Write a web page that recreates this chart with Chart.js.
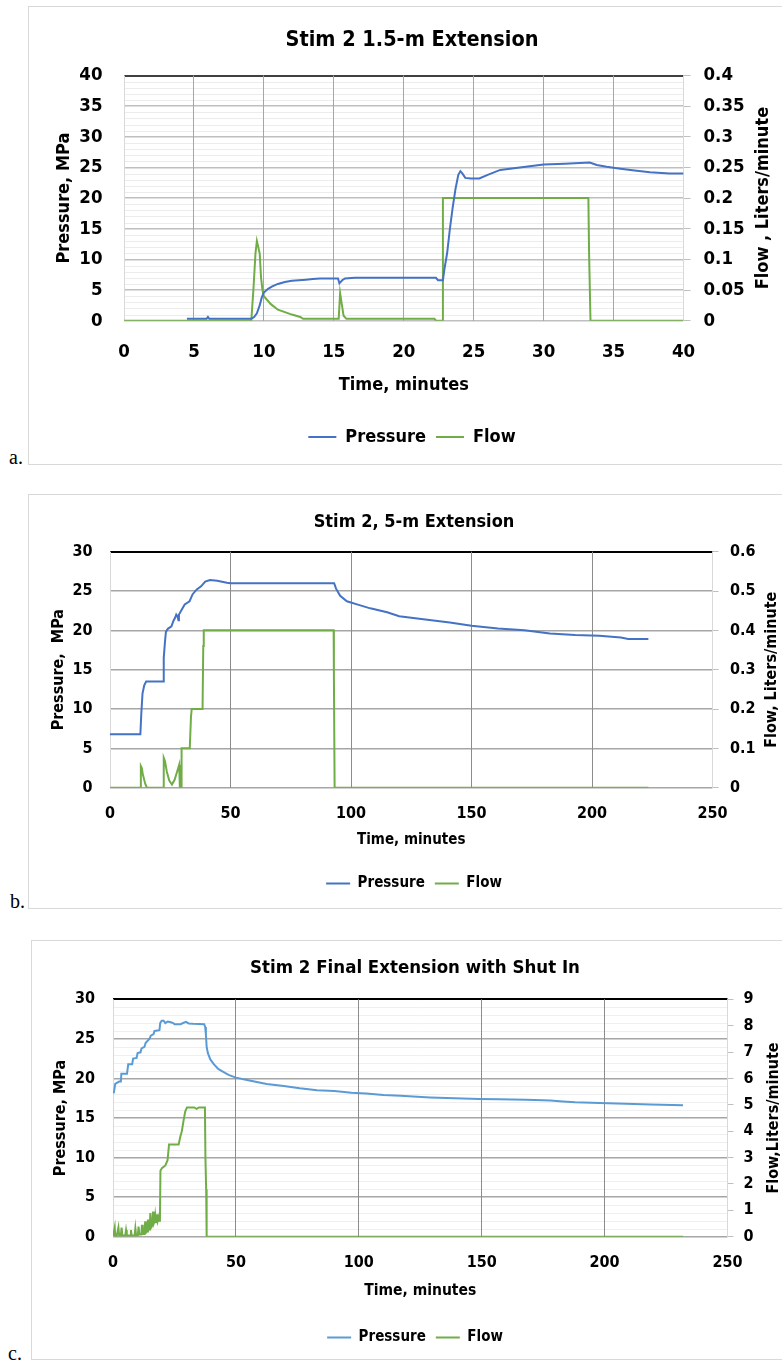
<!DOCTYPE html>
<html>
<head>
<meta charset="utf-8">
<script src="https://cdn.jsdelivr.net/npm/chart.js@4.4.1/dist/chart.umd.min.js"></script>
<style>
html, body { margin: 0; padding: 0; width: 782px; height: 1364px; overflow: hidden; background: #fff; }
.frame { position: absolute; border: 1px solid #d9d9d9; box-sizing: border-box; }
.lbl { position: absolute; font-family: "Liberation Serif", "DejaVu Serif", serif; font-size: 20px; line-height: 23px; color: #000; }
canvas { position: absolute; left: 0; }
</style>
</head>
<body>
<div class="frame" style="left:28px;top:6px;width:800px;height:459px"></div>
<div class="lbl" style="left:9px;top:446px">a.</div>
<canvas id="chartA" width="800" height="458" style="top:6px"></canvas>

<div class="frame" style="left:28px;top:494px;width:800px;height:415px"></div>
<div class="lbl" style="left:10px;top:890px">b.</div>
<canvas id="chartB" width="800" height="414" style="top:494px"></canvas>

<div class="frame" style="left:31px;top:940px;width:800px;height:420px"></div>
<div class="lbl" style="left:8px;top:1342px">c.</div>
<canvas id="chartC" width="800" height="418" style="top:940px"></canvas>

<script>
const FONT = '"DejaVu Sans Condensed", "Liberation Sans Narrow", "DejaVu Sans", sans-serif';

// ---- a. Stim 2 1.5-m Extension ----
const timePressureA = [4.5, 5.9, 6.0, 6.1, 9.1, 9.3, 9.5, 9.7, 9.85, 10.0, 10.3, 10.6, 11.0, 11.5, 12.0, 12.5, 13.0, 13.5, 14.0, 15.3, 15.4, 15.6, 15.8, 16.5, 22.3, 22.45, 22.8, 22.9, 23.1, 23.3, 23.5, 23.7, 23.9, 24.05, 24.2, 24.4, 24.8, 25.4, 26.0, 26.9, 28.3, 30.0, 31.5, 33.3, 33.8, 34.5, 35.5, 36.5, 37.6, 39.0, 40.0];
const pressureA = [0.3, 0.3, 0.6, 0.3, 0.3, 0.6, 1.2, 2.5, 3.8, 4.6, 5.2, 5.6, 6.0, 6.3, 6.5, 6.6, 6.7, 6.8, 6.9, 6.9, 6.1, 6.6, 6.9, 7.0, 7.0, 6.6, 6.6, 8.3, 11.0, 15.0, 18.5, 21.5, 23.8, 24.4, 24.0, 23.3, 23.2, 23.2, 23.8, 24.6, 25.0, 25.5, 25.6, 25.8, 25.4, 25.1, 24.8, 24.5, 24.2, 24.0, 24.0];
const timeFlowA = [0, 9.1, 9.25, 9.4, 9.5, 9.6, 9.7, 9.8, 9.9, 10.0, 10.5, 11.0, 11.5, 12.0, 12.6, 12.8, 15.35, 15.45, 15.55, 15.7, 15.9, 22.2, 22.3, 22.75, 22.8, 33.2, 33.25, 33.35, 40];
const flowA = [0, 0, 0.05, 0.11, 0.13, 0.12, 0.11, 0.07, 0.05, 0.04, 0.027, 0.018, 0.014, 0.01, 0.006, 0.003, 0.003, 0.045, 0.03, 0.008, 0.003, 0.003, 0, 0, 0.2, 0.2, 0.11, 0, 0];
const timeTicksA = ['0', '5', '10', '15', '20', '25', '30', '35', '40'];
const pressureTicksA = ['0', '5', '10', '15', '20', '25', '30', '35', '40'];
const flowTicksA = ['0', '0.05', '0.1', '0.15', '0.2', '0.25', '0.3', '0.35', '0.4'];

// ---- b. Stim 2, 5-m Extension ----
const timePressureB = [0, 12.6, 13.0, 13.5, 14.2, 15.0, 22.0, 22.3, 22.8, 23.2, 24.0, 25.5, 26.3, 27.0, 27.5, 28.0, 28.4, 28.6, 29.5, 31.0, 33.0, 34.3, 36.0, 37.8, 39.5, 41.5, 44.5, 48.5, 50, 93.0, 93.8, 95.5, 98.3, 102.5, 108, 115, 120, 130, 141, 150, 161, 172, 182.5, 193, 203, 212, 215, 223.4];
const pressureB = [6.8, 6.8, 9.5, 12.0, 13.0, 13.5, 13.5, 16.5, 18.5, 19.8, 20.2, 20.5, 21.2, 21.6, 22.0, 21.8, 21.3, 22.0, 22.5, 23.3, 23.7, 24.6, 25.2, 25.6, 26.2, 26.4, 26.3, 26.05, 26.0, 26.0, 25.3, 24.4, 23.7, 23.3, 22.8, 22.3, 21.8, 21.4, 21.0, 20.6, 20.25, 20.0, 19.6, 19.4, 19.3, 19.1, 18.9, 18.9];
const timeFlowB = [0, 12.6, 12.8, 13.2, 13.6, 14.0, 14.6, 15.3, 22.0, 22.3, 22.8, 23.6, 24.6, 25.7, 26.8, 27.8, 28.7, 29.0, 29.6, 29.7, 33.1, 33.6, 33.9, 38.4, 38.7, 38.9, 92.8, 92.9, 93.2, 223.4];
const flowB = [0, 0, 0.055, 0.05, 0.035, 0.025, 0.01, 0, 0, 0.076, 0.068, 0.04, 0.018, 0.008, 0.02, 0.04, 0.058, 0, 0, 0.1, 0.1, 0.18, 0.2, 0.2, 0.36, 0.4, 0.4, 0.29, 0, 0];
const timeTicksB = ['0', '50', '100', '150', '200', '250'];
const pressureTicksB = ['0', '5', '10', '15', '20', '25', '30'];
const flowTicksB = ['0', '0.1', '0.2', '0.3', '0.4', '0.5', '0.6'];

// ---- c. Stim 2 Final Extension with Shut In ----
const timePressureC = [0.3, 0.9, 2.5, 3.2, 3.4, 5.7, 6.2, 7.8, 8.2, 9.6, 10.0, 11.2, 11.6, 12.8, 13.3, 14.8, 15.4, 16.5, 16.9, 18.9, 19.2, 19.8, 20.6, 21.3, 22.3, 23.5, 24.5, 25.0, 27.5, 28.5, 29.7, 30.8, 32.5, 37.1, 37.5, 37.8, 38.1, 38.6, 39.6, 41.0, 42.8, 44.5, 47.0, 50.0, 54.5, 62.5, 69.5, 76, 83, 90, 97, 103, 110, 117, 129, 149, 157, 168, 178, 183, 188, 198, 208.5, 218.7, 231.9];
const pressureC = [18.1, 19.3, 19.6, 19.6, 20.6, 20.6, 21.8, 21.8, 22.5, 22.6, 23.2, 23.3, 23.8, 24.0, 24.5, 25.0, 25.4, 25.6, 26.0, 26.1, 27.0, 27.3, 27.3, 27.0, 27.2, 27.1, 27.0, 26.85, 26.85, 27.0, 27.15, 26.95, 26.9, 26.85, 26.5, 25.5, 24.0, 23.2, 22.4, 21.8, 21.2, 20.9, 20.45, 20.1, 19.8, 19.3, 19.05, 18.75, 18.5, 18.4, 18.2, 18.1, 17.9, 17.8, 17.6, 17.4, 17.36, 17.3, 17.2, 17.1, 17.0, 16.9, 16.8, 16.7, 16.6];
const timeFlowC = [0, 0.4, 0.7, 0.9, 1.5, 2.2, 2.5, 3.2, 3.5, 3.8, 5.0, 5.3, 5.6, 7.0, 7.3, 7.6, 8.8, 9.1, 9.4, 10.1, 10.4, 10.7, 11.5, 11.8, 12.1, 12.8, 13.1, 13.4, 13.9, 14.2, 14.5, 14.9, 15.2, 15.5, 16.0, 16.3, 16.6, 17.0, 17.2, 17.5, 17.9, 18.2, 18.6, 18.9, 19.1, 19.3, 19.9, 21.3, 22.2, 22.8, 26.7, 27.4, 28.0, 28.7, 29.4, 30.1, 33.0, 34.0, 35.0, 37.4, 37.6, 37.9, 38.1, 231.9];
const flowC = [0, 0, 0.35, 0.05, 0.02, 0.35, 0.05, 0.05, 0.35, 0.05, 0.05, 0.25, 0.05, 0.05, 0.25, 0.05, 0.05, 0.32, 0.05, 0.05, 0.38, 0.08, 0.08, 0.45, 0.1, 0.1, 0.58, 0.15, 0.2, 0.65, 0.25, 0.3, 0.9, 0.35, 0.45, 0.95, 0.5, 0.6, 0.8, 0.55, 0.85, 0.6, 0.75, 0.6, 0.7, 2.5, 2.6, 2.7, 2.9, 3.5, 3.5, 3.8, 4.0, 4.4, 4.75, 4.9, 4.9, 4.85, 4.9, 4.9, 3.0, 1.8, 0, 0];
const timeTicksC = ['0', '50', '100', '150', '200', '250'];
const pressureTicksC = ['0', '5', '10', '15', '20', '25', '30'];
const flowTicksC = ['0', '1', '2', '3', '4', '5', '6', '7', '8', '9'];

Chart.defaults.font.family = FONT;
Chart.defaults.font.weight = 'bold';
Chart.defaults.color = '#000';

function pts(xs, ys) {
    return xs.map((x, i) => ({ x: x, y: ys[i] }));
}

// right axis title reads bottom-to-top like the left one
const rightTitle = {
    id: 'rightTitle',
    afterDraw(chart, args, o) {
        const ctx = chart.ctx;
        const area = chart.chartArea;
        ctx.save();
        ctx.font = 'bold ' + o.size + 'px ' + FONT;
        ctx.fillStyle = '#000';
        ctx.textAlign = 'center';
        ctx.textBaseline = 'middle';
        ctx.translate(o.x, (area.top + area.bottom) / 2);
        ctx.rotate(-Math.PI / 2);
        ctx.fillText(o.text, 0, 0);
        ctx.restore();
    }
};

// faint minor lines every 1 unit of the left axis, painted before everything else
const minorGrid = {
    id: 'minorGrid',
    beforeDraw(chart, args, o) {
        if (!o.color) return;
        const ctx = chart.ctx;
        const area = chart.chartArea;
        const y = chart.scales.y;
        ctx.save();
        ctx.strokeStyle = o.color;
        ctx.lineWidth = 1;
        ctx.beginPath();
        for (let v = y.min; v <= y.max; v += 1) {
            if (v % 5 === 0) continue;
            const py = Math.round(y.getPixelForValue(v)) + 0.5;
            ctx.moveTo(area.left, py);
            ctx.lineTo(area.right, py);
        }
        ctx.stroke();
        ctx.restore();
    }
};

function makeChart(id, p) {
    return new Chart(document.getElementById(id), {
        type: 'line',
        data: {
            datasets: [
                { label: 'Pressure', data: pts(p.tp, p.pv), borderColor: p.pColor, borderWidth: p.lw, yAxisID: 'y' },
                { label: 'Flow', data: pts(p.tf, p.fv), borderColor: '#70ad47', borderWidth: p.lw, yAxisID: 'y2' }
            ]
        },
        options: {
            responsive: false,
            animation: false,
            elements: { point: { radius: 0 }, line: { tension: 0 } },
            layout: { padding: { left: p.padL, top: 0, right: 0, bottom: p.padB } },
            plugins: {
                title: {
                    display: true, text: p.title, color: '#000',
                    font: { size: p.titleSize, weight: 'bold' },
                    padding: { top: p.titlePadT, bottom: p.titlePadB }
                },
                legend: {
                    position: 'bottom',
                    labels: {
                        usePointStyle: true, pointStyle: 'line', pointStyleWidth: p.legLine,
                        color: '#000', font: { size: p.legSize, weight: 'bold' }, padding: 10
                    }
                },
                tooltip: { enabled: false },
                rightTitle: { text: p.rTitle, x: p.rTitleX, size: p.rTitleSize },
                minorGrid: { color: p.minorGrid }
            },
            scales: {
                x: {
                    type: 'linear', min: 0, max: p.xMax,
                    afterFit: s => { s.height = p.xH; },
                    ticks: {
                        stepSize: p.xStep, padding: p.xTickPad, color: '#000', autoSkip: false, maxRotation: 0,
                        font: { size: p.tickSize, weight: 'bold' },
                        callback: (v, i) => p.xTicks[i]
                    },
                    grid: {
                        drawTicks: false, lineWidth: 1,
                        color: c => (c.tick.value === 0 || c.tick.value === p.xMax) ? '#d9d9d9' : p.vGrid
                    },
                    border: { display: false },
                    title: {
                        display: true, text: 'Time, minutes', color: '#000',
                        font: { size: p.xTitleSize, weight: 'bold' },
                        padding: { top: 0, bottom: p.xTitlePadB }
                    }
                },
                y: {
                    position: 'left', min: 0, max: p.yMax,
                    afterFit: s => { s.width = p.yW; },
                    ticks: {
                        stepSize: 5, padding: p.yTickPad, color: '#000', autoSkip: false,
                        font: { size: p.tickSize, weight: 'bold' },
                        callback: (v, i) => p.yTicks[i]
                    },
                    grid: {
                        drawTicks: false,
                        z: -2,
                        color: c => c.tick.value === p.yMax ? p.topColor : p.hGrid,
                        lineWidth: c => c.tick.value === p.yMax ? 2 : 1.5
                    },
                    border: { display: false },
                    title: {
                        display: true, text: p.lTitle, color: '#000',
                        font: { size: p.yTitleSize, weight: 'bold' },
                        padding: { top: p.yTitlePad, bottom: 0 }
                    }
                },
                y2: {
                    position: 'right', min: 0, max: p.y2Max,
                    afterFit: s => { s.width = p.y2W; },
                    ticks: {
                        stepSize: p.y2Step, padding: p.y2TickPad, color: '#000', autoSkip: false,
                        font: { size: p.tickSize, weight: 'bold' },
                        callback: (v, i) => p.y2Ticks[i]
                    },
                    grid: { drawOnChartArea: false, drawTicks: true, tickLength: p.tickLen, color: '#bfbfbf' },
                    border: { display: false }
                }
            }
        },
        plugins: [minorGrid, rightTitle]
    });
}

makeChart('chartA', {
    tp: timePressureA, pv: pressureA, tf: timeFlowA, fv: flowA,
    xTicks: timeTicksA, yTicks: pressureTicksA, y2Ticks: flowTicksA,
    title: 'Stim 2 1.5-m Extension', lTitle: 'Pressure, MPa', rTitle: 'Flow , Liters/minute',
    pColor: '#4472c4', lw: 2,
    xMax: 40, xStep: 5, yMax: 40, y2Max: 0.4, y2Step: 0.05,
    padL: 24, padB: 8, titleSize: 21.5, titlePadT: 22, titlePadB: 21.7,
    legSize: 18, legLine: 28,
    xH: 97.3, xTickPad: 20, tickSize: 18.5, xTitleSize: 18, xTitlePadB: 22,
    yW: 100, yTickPad: 21.5, yTitleSize: 18, yTitlePad: 30,
    y2W: 116.5, tickLen: 7, y2TickPad: 13, rTitleX: 763, rTitleSize: 18,
    vGrid: '#a6a6a6', hGrid: '#bfbfbf', minorGrid: '#ececec', topColor: '#404040'
});

makeChart('chartB', {
    tp: timePressureB, pv: pressureB, tf: timeFlowB, fv: flowB,
    xTicks: timeTicksB, yTicks: pressureTicksB, y2Ticks: flowTicksB,
    title: 'Stim 2, 5-m Extension', lTitle: 'Pressure,  MPa', rTitle: 'Flow, Liters/minute',
    pColor: '#4472c4', lw: 2,
    xMax: 250, xStep: 50, yMax: 30, y2Max: 0.6, y2Step: 0.1,
    padL: 28, padB: 7, titleSize: 18, titlePadT: 18, titlePadB: 18.1,
    legSize: 15, legLine: 24,
    xH: 78.3, xTickPad: 16.5, tickSize: 16, xTitleSize: 15, xTitlePadB: 17,
    yW: 82, yTickPad: 17.5, yTitleSize: 16, yTitlePad: 21,
    y2W: 87.5, tickLen: 6, y2TickPad: 11.5, rTitleX: 772, rTitleSize: 16,
    vGrid: '#8c8c8c', hGrid: '#a6a6a6', minorGrid: null, topColor: '#000'
});

makeChart('chartC', {
    tp: timePressureC, pv: pressureC, tf: timeFlowC, fv: flowC,
    xTicks: timeTicksC, yTicks: pressureTicksC, y2Ticks: flowTicksC,
    title: 'Stim 2 Final Extension with Shut In', lTitle: 'Pressure, MPa', rTitle: 'Flow,Liters/minute',
    pColor: '#5b9bd5', lw: 2,
    xMax: 250, xStep: 50, yMax: 30, y2Max: 9, y2Step: 1,
    padL: 30, padB: 3, titleSize: 18.5, titlePadT: 17, titlePadB: 20.1,
    legSize: 15, legLine: 24,
    xH: 83.3, xTickPad: 16.5, tickSize: 16, xTitleSize: 15.5, xTitlePadB: 20.2,
    yW: 83, yTickPad: 18, yTitleSize: 16, yTitlePad: 21.4,
    y2W: 72.5, tickLen: 6, y2TickPad: 10, rTitleX: 774, rTitleSize: 16,
    vGrid: '#8c8c8c', hGrid: '#a6a6a6', minorGrid: '#efefef', topColor: '#000'
});
</script>
</body>
</html>
